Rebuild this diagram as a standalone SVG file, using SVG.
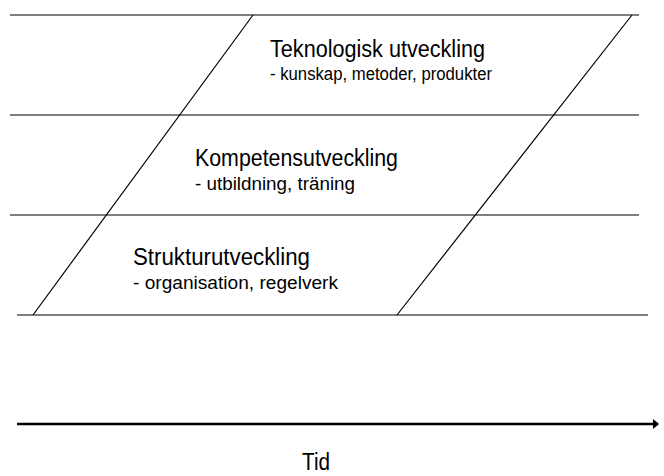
<svg xmlns="http://www.w3.org/2000/svg" width="664" height="476" viewBox="0 0 664 476">
  <style>
    .rule { stroke: #000; stroke-width: 1.2; fill: none; }
    .title { font-family: "Liberation Sans", Arial, sans-serif; font-size: 23px; fill: #000; }
    .sub { font-family: "Liberation Sans", Arial, sans-serif; font-size: 17.5px; fill: #000; }
    .axis { stroke: #000; stroke-width: 2.6; fill: none; }
  </style>
  <defs>
    <marker id="head" viewBox="0 0 6 10" refX="5" refY="5" markerWidth="6" markerHeight="10" markerUnits="userSpaceOnUse" orient="auto">
      <path d="M0,0 L6,5 L0,10 Z" fill="#000"/>
    </marker>
  </defs>
  <rect width="664" height="476" fill="#fff"/>

  <!-- band boundaries and slanted band edges -->
  <g id="connectors">
    <line class="rule" x1="10" y1="15" x2="639" y2="15"/>
    <line class="rule" x1="10" y1="115" x2="639" y2="115"/>
    <line class="rule" x1="10" y1="215" x2="639" y2="215"/>
    <line class="rule" x1="17" y1="315" x2="648" y2="315"/>
    <line class="rule" x1="253" y1="15" x2="33" y2="315"/>
    <line class="rule" x1="632" y1="15" x2="397" y2="315"/>
    <line class="axis" x1="17" y1="424" x2="658" y2="424" marker-end="url(#head)"/>
  </g>

  <!-- each band label: narrow condensed title plus a sub line -->
  <g id="teknologisk">
    <text class="title" x="270" y="57" textLength="215" lengthAdjust="spacingAndGlyphs">Teknologisk utveckling</text>
    <text class="sub" x="270" y="80" textLength="222" lengthAdjust="spacingAndGlyphs">- kunskap, metoder, produkter</text>
  </g>

  <g id="kompetens">
    <text class="title" x="195" y="166" textLength="203" lengthAdjust="spacingAndGlyphs">Kompetensutveckling</text>
    <text class="sub" x="195" y="190" textLength="160" lengthAdjust="spacingAndGlyphs">- utbildning, träning</text>
  </g>

  <g id="struktur">
    <text class="title" x="133" y="265" textLength="177" lengthAdjust="spacingAndGlyphs">Strukturutveckling</text>
    <text class="sub" x="133" y="289" textLength="205" lengthAdjust="spacingAndGlyphs">- organisation, regelverk</text>
  </g>

  <g id="tid">
    <text class="title" x="302" y="470" textLength="28" lengthAdjust="spacingAndGlyphs">Tid</text>
  </g>
</svg>
